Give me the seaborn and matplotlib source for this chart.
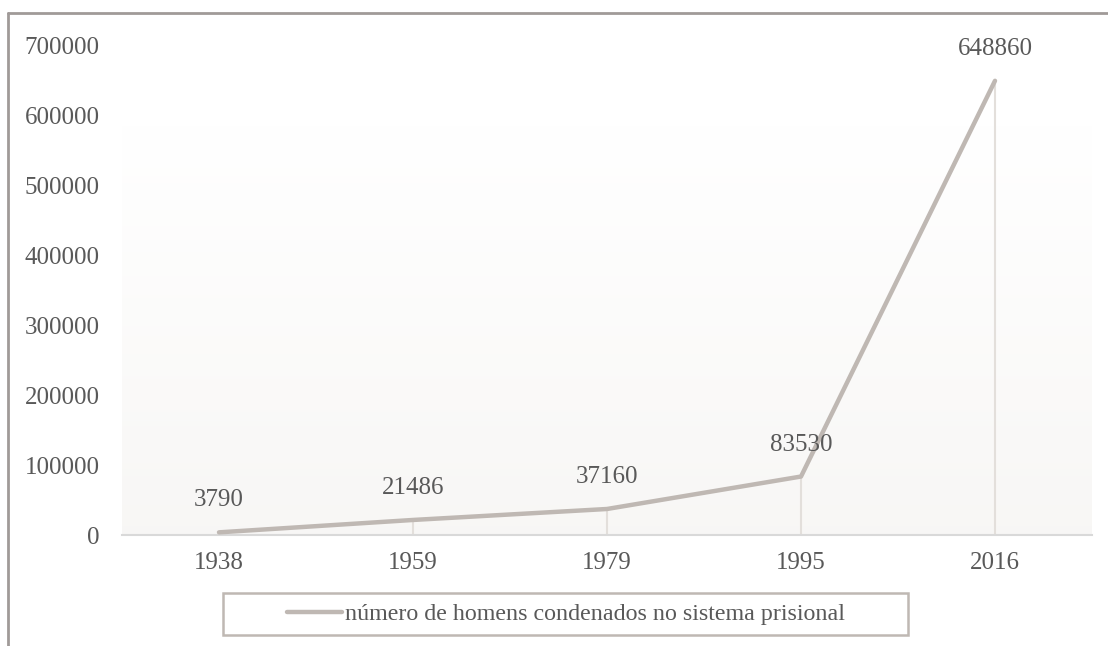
import matplotlib.pyplot as plt
import seaborn as sns
import numpy as np
import pandas as pd
from matplotlib.lines import Line2D
from matplotlib.patches import Rectangle

# data
years = ['1938', '1959', '1979', '1995', '2016']
homens = [3790, 21486, 37160, 83530, 648860]
serie = 'número de homens condenados no sistema prisional'

df = pd.DataFrame({'ano': years, 'valor': homens})

sns.set_style('white')
plt.rcParams['font.family'] = ['Liberation Serif', 'DejaVu Serif']
txt = '#595959'
linec = '#bfb8b3'
W, H = 1108, 646

fig = plt.figure(figsize=(W / 100, H / 100), dpi=100)
ax = fig.add_axes([122 / W, 111 / H, 970 / W, 490 / H])

# soft vertical gradient in the plot area
grad = np.linspace(0, 1, 256).reshape(-1, 1)
top = np.array([1.0, 1.0, 1.0])
bot = np.array([0.972, 0.968, 0.962])
img = top + (bot - top) * grad
ax.imshow(img[:, None, :].repeat(2, axis=1), extent=(-0.5, 4.5, 0, 585000),
          aspect='auto', origin='upper', zorder=0)

# drop lines
ax.vlines(range(len(years)), 0, homens, color='#e3dfdb', lw=1.5, zorder=1)

sns.lineplot(data=df, x='ano', y='valor', color=linec, lw=3.2, ax=ax,
             label=serie, zorder=3, sort=False)

for i, v in enumerate(homens):
    ax.annotate(str(v), (i, v), xytext=(0, 23), textcoords='offset points',
                ha='center', va='center', fontsize=18, color=txt, zorder=4)

ax.set_xlim(-0.5, 4.5)
ax.set_ylim(0, 700000)
ax.set_yticks(range(0, 700001, 100000))
ax.set_yticklabels([str(t) for t in range(0, 700001, 100000)])
ax.set_xlabel('')
ax.set_ylabel('')
ax.tick_params(axis='both', length=0, labelsize=18, labelcolor=txt)
ax.tick_params(axis='y', pad=16)
ax.tick_params(axis='x', pad=12)
for s in ['top', 'right', 'left']:
    ax.spines[s].set_visible(False)
ax.spines['bottom'].set_color('#d9d9d9')
ax.spines['bottom'].set_linewidth(1.5)
ax.set_facecolor('white')

# legend: Excel-style box drawn separately
ax.legend(loc='center left', bbox_to_anchor=(287 / W, 1 - 614 / H),
          bbox_transform=fig.transFigure, fontsize=17.3, frameon=False,
          handlelength=2.3, handletextpad=0.12, borderpad=0, borderaxespad=0,
          labelcolor=txt)
fig.add_artist(Rectangle((223 / W, 1 - 635 / H), (908 - 223) / W, 42 / H,
                         transform=fig.transFigure, fill=False,
                         edgecolor=linec, lw=1.8))

# outer border (top and left only)
fig.add_artist(Line2D([8 / W, 1], [1 - 13 / H, 1 - 13 / H], color='#a09a98', lw=2))
fig.add_artist(Line2D([8 / W, 8 / W], [0, 1 - 13 / H], color='#a09a98', lw=2))

fig.savefig('out.png', dpi=100)
